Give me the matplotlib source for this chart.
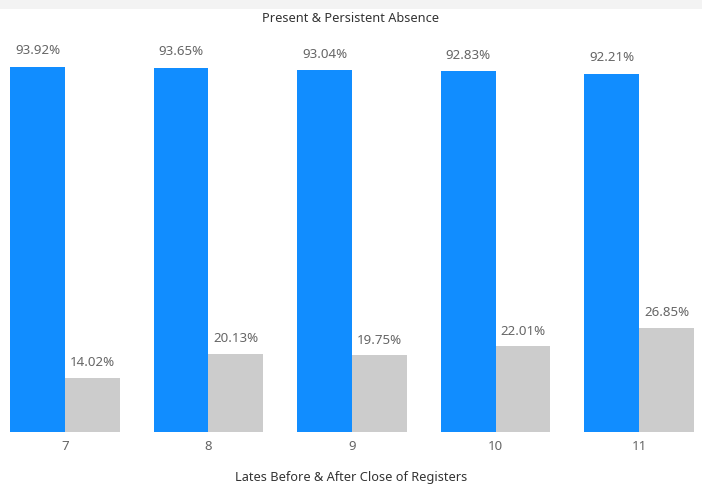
import matplotlib
matplotlib.use("Agg")
import matplotlib.pyplot as plt
from matplotlib.patches import Rectangle
import numpy as np

plt.rcParams["font.family"] = ["Noto Sans", "DejaVu Sans"]

# lates band (x categories) and the two measures per band
categories = ["7", "8", "9", "10", "11"]
present = [93.92, 93.65, 93.04, 92.83, 92.21]
persistent_absence = [14.02, 20.13, 19.75, 22.01, 26.85]

BLUE = "#118DFF"
GREY = "#CCCCCC"
W, H = 702, 491

fig = plt.figure(figsize=(W / 100, H / 100), dpi=100)
fig.patch.set_facecolor("white")

# light strip across the top of the visual
fig.patches.append(Rectangle((0, 1 - 9 / H), 1, 9 / H, transform=fig.transFigure,
                             facecolor="#F3F3F3", edgecolor="none", zorder=0))

left_px, right_px = 10, 694
bottom_px, top_px = 432, 43.4
ax = fig.add_axes([left_px / W, 1 - bottom_px / H,
                   (right_px - left_px) / W, (bottom_px - top_px) / H])

x = np.arange(len(categories))
width = 0.383
b1 = ax.bar(x - width / 2, present, width, color=BLUE, linewidth=0)
b2 = ax.bar(x + width / 2, persistent_absence, width, color=GREY, linewidth=0)

for bars, vals, pad in ((b1, present, 7), (b2, persistent_absence, 6)):
    for rect, v in zip(bars, vals):
        ax.annotate(f"{v:.2f}%", (rect.get_x() + rect.get_width() / 2, v),
                    xytext=(0, pad), textcoords="offset points",
                    ha="center", va="bottom", fontsize=9.6, color="#666666")

ax.set_xlim(-width, len(categories) - 1 + width)
ax.set_ylim(0, 100)
ax.set_xticks(x)
ax.set_xticklabels(categories, fontsize=9.5, color="#666666")
ax.tick_params(axis="x", length=0, pad=6)
ax.set_yticks([])
for s in ax.spines.values():
    s.set_visible(False)

fig.text(0.5, 1 - 18 / H, "Present & Persistent Absence", ha="center", va="center",
         fontsize=9.2, color="#333333")
fig.text(0.5, 1 - 478 / H, "Lates Before & After Close of Registers", ha="center",
         va="center", fontsize=9.2, color="#333333")

fig.savefig("out.png", dpi=100)
